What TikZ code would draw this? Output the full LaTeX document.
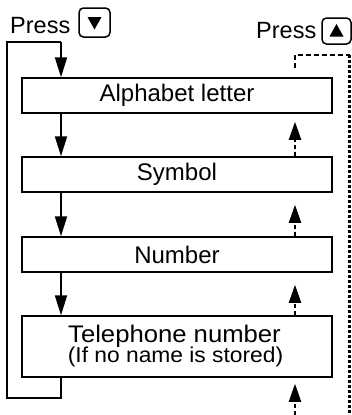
\documentclass[tikz,border=0pt]{standalone}
\usepackage{fontspec}
\usepackage{graphicx}
\setmainfont{Liberation Sans}
\usetikzlibrary{arrows.meta,calc}
\tikzset{
  box/.style={draw, line width=1.5pt, minimum width=310pt, inner sep=0pt,
    font=\fontsize{24}{28}\selectfont},
  keybox/.style={draw, line width=1.5pt, rounded corners=4.5pt, inner sep=0pt},
  presslabel/.style={anchor=base west, inner sep=0pt, font=\fontsize{23.5}{27}\selectfont},
  downarrow/.style={line width=2pt, -{Triangle[length=20pt,width=12pt]}},
  uparrow/.style={line width=2pt, dash pattern=on 4pt off 3pt, -{Triangle[length=18pt,width=12pt]}},
  loopline/.style={line width=2pt},
  dashline/.style={line width=2pt, dash pattern=on 5pt off 3pt},
  dotline/.style={line width=2.6pt, dash pattern=on 3pt off 2pt},
}
\begin{document}
\begin{tikzpicture}[x=1pt,y=-1pt]
\useasboundingbox (0,0) rectangle (352,415);

% boxes
\node[box, minimum height=35pt] (b1) at (177,95.5) {Alphabet letter};
\node[box, minimum height=35pt] (b2) at (177,174.5) {Symbol};
\node[box, minimum height=35pt] (b3) at (177,254.5) {Number};
\node[box, minimum height=61pt] (b4) at (177,346.5) {};
\node[anchor=base, inner sep=0pt] (t4a) at (174.5,342)
  {\fontsize{24}{28}\selectfont\scalebox{1.07}[1]{Telephone number}};
\node[anchor=base, inner sep=0pt] (t4b) at (175.5,362)
  {\fontsize{21.5}{25}\selectfont\scalebox{1.06}[1]{(If no name is stored)}};

% press labels and keys
\node[presslabel] (p1) at (10,33) {Press};
\node[keybox, minimum width=31pt, minimum height=29pt] (k1) at (94.5,22.5) {};
\node[presslabel] (p2) at (256,38) {Press};
\node[keybox, minimum width=29pt, minimum height=26pt] (k2) at (336.5,31) {};
\fill (k1.center) ++(-7,-5.5) -- ++(14,0) -- ++(-7,12.5) -- cycle;
\fill (k2.center) ++(-7,5.5) -- ++(14,0) -- ++(-7,-12.5) -- cycle;

% coordinates
\coordinate (dx) at (61,0);
\coordinate (ux) at (295,0);
\coordinate (lt) at (7,42);
\coordinate (lb) at (7,398);
\coordinate (rt) at (349.5,55);
\coordinate (rb) at (349.5,415);
\coordinate (ut) at (295,55);
\coordinate (us) at (295,68);
\coordinate (ub) at (295,415);

% left loop and down arrows
\draw[loopline] (b4.south -| dx) -- (lb -| dx) -- (lb) -- (lt) -- (lt -| dx);
\draw[downarrow] (lt -| dx) -- (b1.north -| dx);
\draw[downarrow] (b1.south -| dx) -- (b2.north -| dx);
\draw[downarrow] (b2.south -| dx) -- (b3.north -| dx);
\draw[downarrow] (b3.south -| dx) -- (b4.north -| dx);

% right dashed return
\draw[dashline] (us) -- (ut) -- (rt);
\draw[dotline] (rt) -- (rb);
\draw[uparrow, shorten >=8pt] (b2.north -| ux) -- (b1.south -| ux);
\draw[uparrow, shorten >=12pt] (b3.north -| ux) -- (b2.south -| ux);
\draw[uparrow, shorten >=12pt] (b4.north -| ux) -- (b3.south -| ux);
\draw[uparrow, shorten >=6pt] (ub) -- (b4.south -| ux);
\end{tikzpicture}
\end{document}
